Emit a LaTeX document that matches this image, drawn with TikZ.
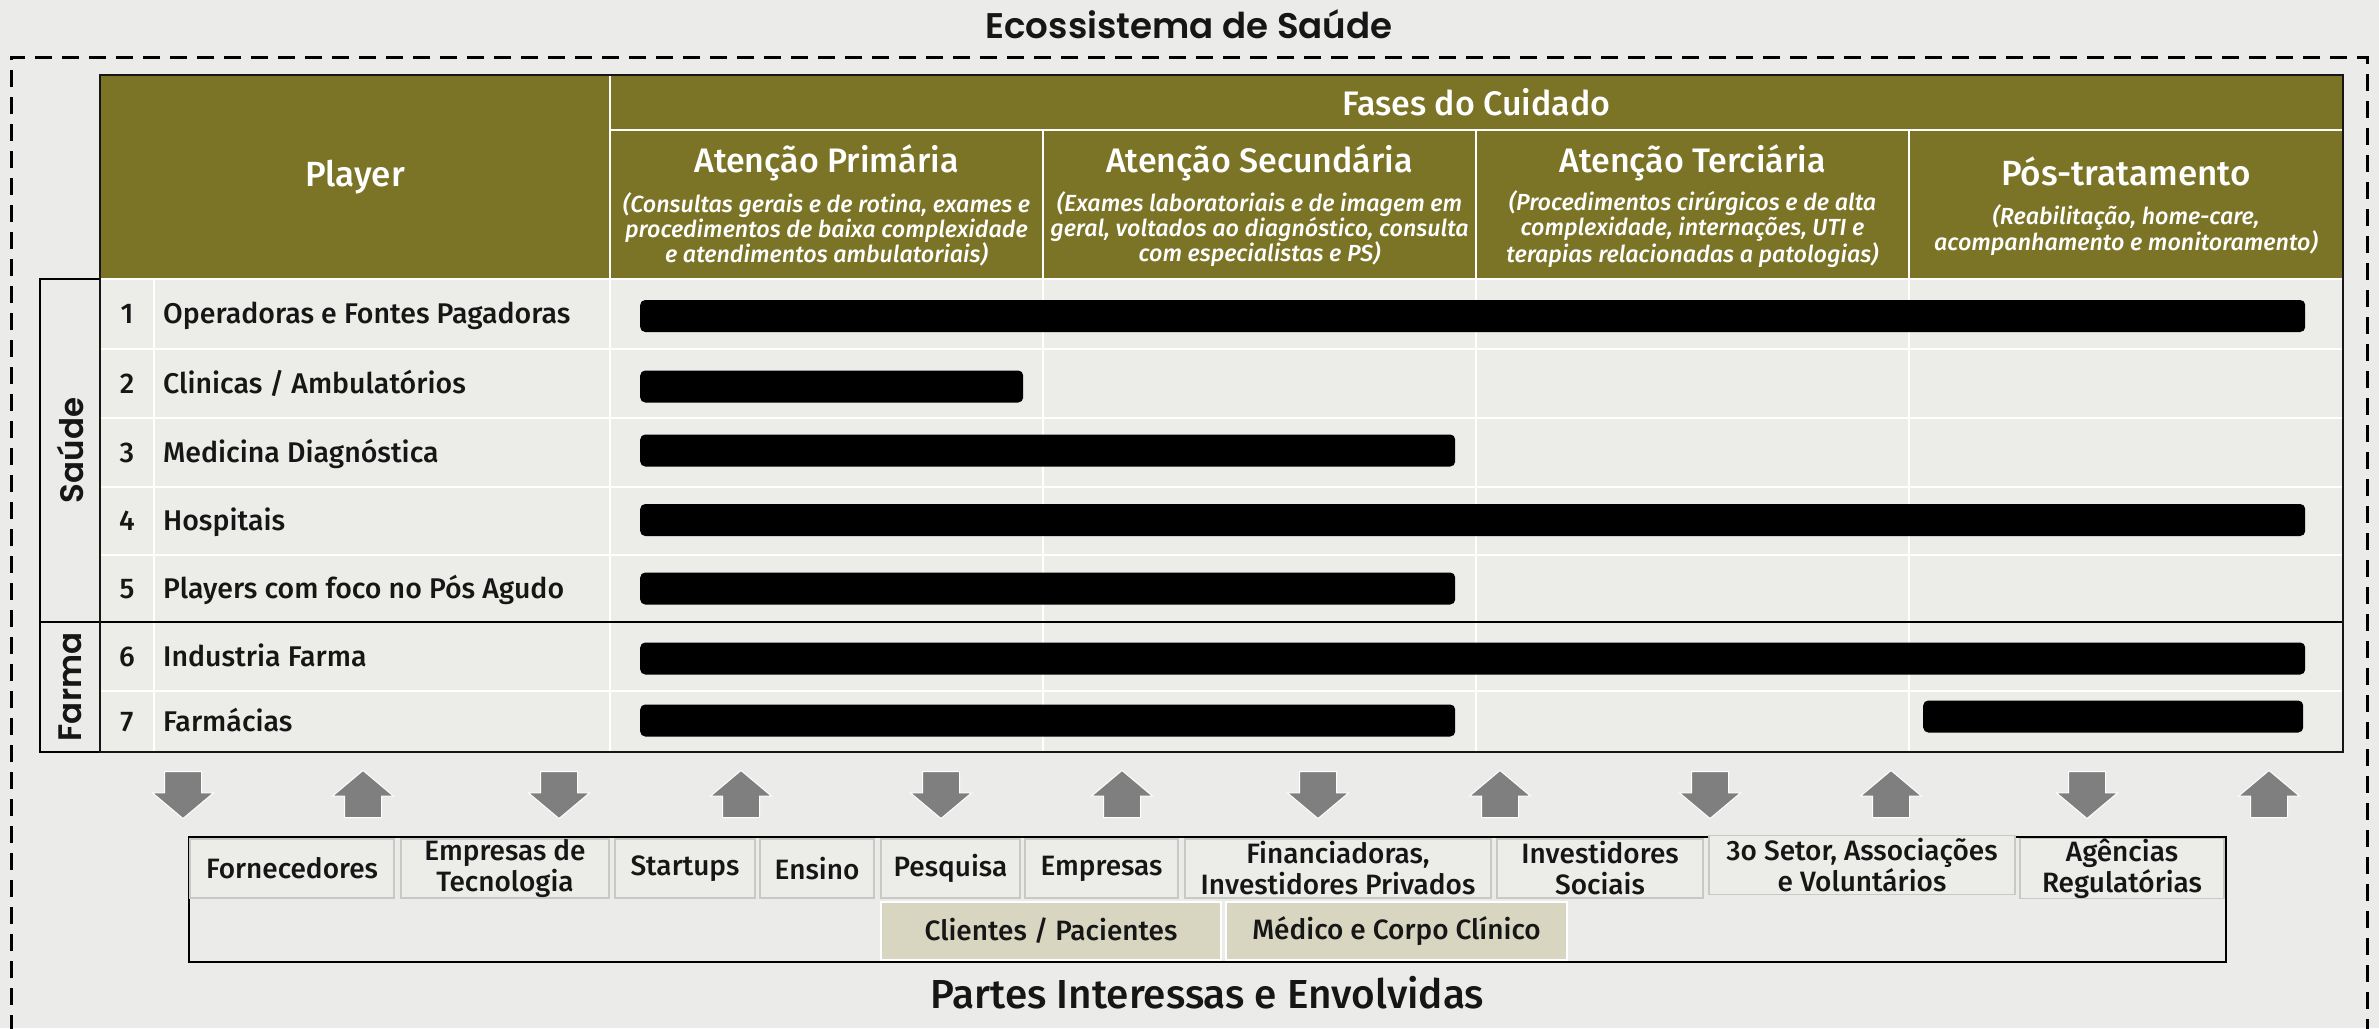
\documentclass[tikz,border=0pt]{standalone}
\usepackage{fontspec}
\IfFontExistsTF{Fira Sans Medium}
{\setmainfont{Fira Sans Medium}[ItalicFont={Fira Sans Medium Italic}]}
{\setmainfont{Fira Sans}}
\IfFontExistsTF{Poppins SemiBold}
{\newfontfamily\popsidefont{Poppins SemiBold}}
{\newfontfamily\popsidefont{Poppins}[UprightFont={* Bold}]}
\usetikzlibrary{shapes.arrows,positioning}
\definecolor{canvas}{HTML}{EBEBE9}
\definecolor{olive}{HTML}{7B7426}
\definecolor{rowfill}{HTML}{ECECE8}
\definecolor{ink}{HTML}{161616}
\definecolor{arrowgray}{HTML}{7F7F7F}
\definecolor{beige}{HTML}{D8D6C0}
\definecolor{cellline}{HTML}{C8C8C4}
\tikzstyle{bar} = [rectangle,fill=black,rounded corners=5pt,minimum height=32pt,inner sep=0pt,anchor=west]
\tikzstyle{cell} = [rectangle,fill=rowfill,draw=cellline,line width=1.2pt,minimum height=59pt,inner sep=0pt,outer sep=0pt,align=center,text=ink,font=\fontsize{28}{31}\selectfont]

\begin{document}
\begin{tikzpicture}
		[
		x=1pt,y=-1pt,
		headcell/.style={
		rectangle,
		fill=olive,
		draw=white,
		line width=1.5pt,
		inner sep=0pt,
		outer sep=0pt,
		anchor=north west,
		text=white},
		rowcell/.style={
		rectangle,
		fill=rowfill,
		draw=white,
		line width=1.5pt,
		minimum width=2243pt,
		inner sep=0pt,
		outer sep=0pt},
		sidebox/.style={
		rectangle,
		fill=canvas,
		draw=black,
		line width=2pt,
		minimum width=60pt,
		inner sep=0pt,
		outer sep=0pt,
		anchor=north east},
		sidelabel/.style={rotate=90,inner sep=0pt,text=ink,font=\popsidefont\fontsize{32.5}{40}\selectfont},
		rownum/.style={anchor=base,inner sep=0pt,text=ink,font=\fontsize{28.5}{32}\selectfont},
		rowlabel/.style={anchor=base west,inner sep=0pt,text=ink,font=\fontsize{28.5}{32}\selectfont},
		phasetitle/.style={anchor=base,inner sep=0pt,text=white,font=\fontsize{34}{38}\selectfont},
		phasesub/.style={align=center,inner sep=0pt,text=white,font=\itshape\fontsize{23.3}{25}\selectfont},
		flow/.style={single arrow,fill=arrowgray,draw=white,line width=1pt,inner xsep=18pt,inner ysep=0pt,
		single arrow head extend=12pt,single arrow tip angle=100,minimum height=47pt,minimum width=60pt,anchor=tail},
		flowdown/.style={flow,shape border rotate=270},
		flowup/.style={flow,shape border rotate=90},
		gridline/.style={draw=white,line width=2.5pt}
		]
		\useasboundingbox (0,0) rectangle (2379,1028);
		\fill[canvas] (0,0) rectangle (2379,1028);
		\draw[line width=3pt,dash pattern=on 17pt off 10pt] (11,1032) -- (11,57) -- (2367,57) -- (2367,1032);
		\node[inner sep=0pt,text=ink,font=\popsidefont\fontsize{35.6}{40}\selectfont] (eco_title) at (1189,24) {Ecossistema de Saúde};

		% header
		\node[headcell,minimum width=510pt,minimum height=204pt,font=\fontsize{35}{40}\selectfont] (player_cell) at (100,75) {Player};
		\node[headcell,minimum width=1733pt,minimum height=55pt,font=\fontsize{34}{38}\selectfont] (fases_cell) at (610,75) {Fases do Cuidado};
		\node[headcell,minimum width=433pt,minimum height=149pt] (prim_cell) at (610,130) {};
		\node[headcell,minimum width=433pt,minimum height=149pt] (sec_cell) at (1043,130) {};
		\node[headcell,minimum width=433pt,minimum height=149pt] (terc_cell) at (1476,130) {};
		\node[headcell,minimum width=434pt,minimum height=149pt] (pos_cell) at (1909,130) {};
		\node[phasetitle] (prim_title) at ([yshift=-42pt]prim_cell.north) {Atenção Primária};
		\node[phasetitle] (sec_title) at ([yshift=-42pt]sec_cell.north) {Atenção Secundária};
		\node[phasetitle] (terc_title) at ([yshift=-42pt]terc_cell.north) {Atenção Terciária};
		\node[phasetitle,font=\fontsize{35}{40}\selectfont] (pos_title) at ([yshift=-55pt]pos_cell.north) {Pós-tratamento};
		\node[phasesub] (prim_sub) at ([yshift=-99pt]prim_cell.north) {(Consultas gerais e de rotina, exames e\\procedimentos de baixa complexidade\\e atendimentos ambulatoriais)};
		\node[phasesub] (sec_sub) at ([yshift=-99pt]sec_cell.north) {(Exames laboratoriais e de imagem em\\geral, voltados ao diagnóstico, consulta\\com especialistas e PS)};
		\node[phasesub] (terc_sub) at ([yshift=-99pt]terc_cell.north) {(Procedimentos cirúrgicos e de alta\\complexidade, internações, UTI e\\terapias relacionadas a patologias)};
		\node[phasesub] (pos_sub) at ([yshift=-100pt]pos_cell.north) {(Reabilitação, home-care,\\acompanhamento e monitoramento)};

		% rows
		\node[rowcell,minimum height=70pt,anchor=north west] (row_one) at (100,279) {};
		\node[rowcell,minimum height=69pt,below=0pt of row_one] (row_two) {};
		\node[rowcell,minimum height=69pt,below=0pt of row_two] (row_three) {};
		\node[rowcell,minimum height=68pt,below=0pt of row_three] (row_four) {};
		\node[rowcell,minimum height=67pt,below=0pt of row_four] (row_five) {};
		\node[rowcell,minimum height=69pt,below=0pt of row_five] (row_six) {};
		\node[rowcell,minimum height=61pt,below=0pt of row_six] (row_seven) {};
		\draw[gridline] (154,279) -- (154,752);
		\draw[gridline] (610,279) -- (610,752);
		\draw[gridline] (1043,279) -- (1043,752);
		\draw[gridline] (1476,279) -- (1476,752);
		\draw[gridline] (1909,279) -- (1909,752);

		\node[sidebox,minimum height=343pt] (saude_box) at (row_one.north west) {};
		\node[sidebox,minimum height=130pt] (farma_box) at (row_six.north west) {};
		\node[sidelabel] (saude_label) at (saude_box.center) {Saúde};
		\node[sidelabel] (farma_label) at (farma_box.center) {Farma};

		\node[rownum] (num_one) at ([xshift=27pt,yshift=-9.5pt]row_one.west) {1};
		\node[rownum] (num_two) at ([xshift=27pt,yshift=-9.5pt]row_two.west) {2};
		\node[rownum] (num_three) at ([xshift=27pt,yshift=-9.5pt]row_three.west) {3};
		\node[rownum] (num_four) at ([xshift=27pt,yshift=-9.5pt]row_four.west) {4};
		\node[rownum] (num_five) at ([xshift=27pt,yshift=-9.5pt]row_five.west) {5};
		\node[rownum] (num_six) at ([xshift=27pt,yshift=-9.5pt]row_six.west) {6};
		\node[rownum] (num_seven) at ([xshift=27pt,yshift=-9.5pt]row_seven.west) {7};
		\node[rowlabel] (label_one) at ([xshift=63pt,yshift=-9.5pt]row_one.west) {Operadoras e Fontes Pagadoras};
		\node[rowlabel] (label_two) at ([xshift=63pt,yshift=-9.5pt]row_two.west) {Clinicas / Ambulatórios};
		\node[rowlabel] (label_three) at ([xshift=63pt,yshift=-9.5pt]row_three.west) {Medicina Diagnóstica};
		\node[rowlabel] (label_four) at ([xshift=63pt,yshift=-9.5pt]row_four.west) {Hospitais};
		\node[rowlabel] (label_five) at ([xshift=63pt,yshift=-9.5pt]row_five.west) {Players com foco no Pós Agudo};
		\node[rowlabel] (label_six) at ([xshift=63pt,yshift=-9.5pt]row_six.west) {Industria Farma};
		\node[rowlabel] (label_seven) at ([xshift=63pt,yshift=-9.5pt]row_seven.west) {Farmácias};

		\node[bar,minimum width=1665pt] (bar_one) at ([xshift=540pt,yshift=-2pt]row_one.west) {};
		\node[bar,minimum width=383pt] (bar_two) at ([xshift=540pt,yshift=-3pt]row_two.west) {};
		\node[bar,minimum width=815pt] (bar_three) at ([xshift=540pt,yshift=2pt]row_three.west) {};
		\node[bar,minimum width=1665pt] (bar_four) at ([xshift=540pt,yshift=1pt]row_four.west) {};
		\node[bar,minimum width=815pt] (bar_five) at ([xshift=540pt,yshift=0pt]row_five.west) {};
		\node[bar,minimum width=1665pt] (bar_six) at ([xshift=540pt,yshift=-2pt]row_six.west) {};
		\node[bar,minimum width=815pt] (bar_seven) at ([xshift=540pt,yshift=1pt]row_seven.west) {};
		\node[bar,minimum width=380pt] (bar_seven_pos) at ([xshift=1823pt,yshift=5pt]row_seven.west) {};

		\draw[line width=2pt,draw=black] (saude_box.south west) -- (row_five.south east);
		\draw[line width=2pt,draw=ink] (player_cell.north west) rectangle (row_seven.south east);

		% arrows
		\node[flowdown] (arrow_one) at (183,771) {};
		\node[flowup] (arrow_two) at (363,818) {};
		\node[flowdown] (arrow_three) at (559,771) {};
		\node[flowup] (arrow_four) at (741,818) {};
		\node[flowdown] (arrow_five) at (941,771) {};
		\node[flowup] (arrow_six) at (1122,818) {};
		\node[flowdown] (arrow_seven) at (1318,771) {};
		\node[flowup] (arrow_eight) at (1500,818) {};
		\node[flowdown] (arrow_nine) at (1710,771) {};
		\node[flowup] (arrow_ten) at (1891,818) {};
		\node[flowdown] (arrow_eleven) at (2087,771) {};
		\node[flowup] (arrow_twelve) at (2269,818) {};

		% partes interessadas
		\node[rectangle,draw=black,line width=2.5pt,minimum width=2037pt,minimum height=125pt,inner sep=0pt,outer sep=0pt,anchor=north west] (partes_box) at (189,837) {};
		\node[cell,minimum width=204pt,anchor=north west] (forn_cell) at (190,839) {Fornecedores};
		\node[cell,minimum width=208pt,right=7pt of forn_cell] (tec_cell) {Empresas de\\Tecnologia};
		\node[cell,minimum width=140pt,right=6pt of tec_cell] (start_cell) {Startups};
		\node[cell,minimum width=114pt,right=5pt of start_cell] (ensino_cell) {Ensino};
		\node[cell,minimum width=139pt,right=7pt of ensino_cell] (pesq_cell) {Pesquisa};
		\node[cell,minimum width=153pt,right=5pt of pesq_cell] (emp_cell) {Empresas};
		\node[cell,minimum width=306pt,right=7pt of emp_cell] (fin_cell) {Financiadoras,\\Investidores Privados};
		\node[cell,minimum width=206pt,right=6pt of fin_cell] (inv_cell) {Investidores\\Sociais};
		\node[cell,minimum width=306pt,right=6pt of inv_cell,yshift=3.5pt] (setor_cell) {3o Setor, Associações\\e Voluntários};
		\node[cell,minimum width=204pt,right=5pt of setor_cell,yshift=-3.5pt] (ag_cell) {Agências\\Regulatórias};
		\node[cell,fill=beige,draw=white,minimum width=340pt,minimum height=58pt,anchor=north west] (cli_cell) at ([yshift=-4pt]pesq_cell.south west) {Clientes / Pacientes};
		\node[cell,fill=beige,draw=white,minimum width=341pt,minimum height=58pt,right=5pt of cli_cell] (med_cell) {Médico e Corpo Clínico};
		\node[inner sep=0pt,text=ink,font=\fontsize{40.5}{46}\selectfont] (partes_title) at ([yshift=-31pt]partes_box.south) {Partes Interessas e Envolvidas};
\end{tikzpicture}
\end{document}
